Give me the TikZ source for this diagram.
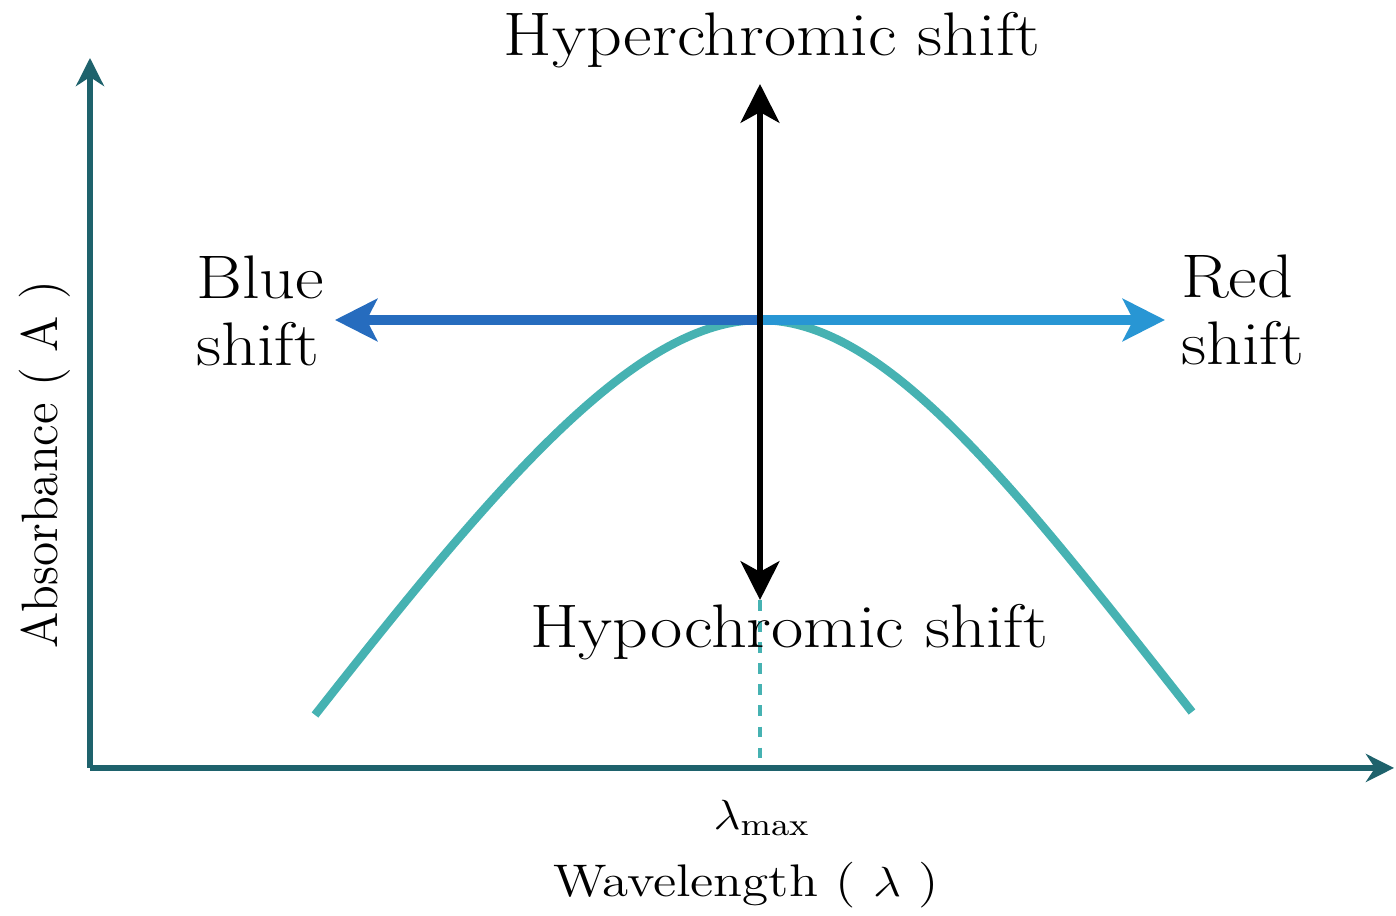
\documentclass[tikz,border=0pt]{standalone}
\usetikzlibrary{arrows.meta}
\definecolor{axisteal}{RGB}{30,98,108}
\definecolor{curveteal}{RGB}{70,178,178}
\definecolor{blueleft}{RGB}{38,108,190}
\definecolor{blueright}{RGB}{40,150,212}
\begin{document}
\begin{tikzpicture}[
    axisline/.style={axisteal, line width=1.6pt, -{Stealth[length=8pt, width=8pt]}},
    shiftarrow/.style={line width=2.6pt, -{Stealth[length=12pt, width=12pt, inset=3pt]}},
    bigtext/.style={font=\fontsize{17.5}{19}\selectfont, xscale=1.14},
    smalltext/.style={font=\fontsize{13}{15}\selectfont, xscale=1.12}
  ]
  \useasboundingbox (0,0) rectangle (13.96,9.16);

  \coordinate (origin) at (0.90,1.48);
  \coordinate (ytop) at (0.90,8.58);
  \coordinate (xend) at (13.94,1.48);
  \coordinate (peak) at (7.60,5.96);
  \coordinate (base) at (7.60,1.48);
  \coordinate (curvestart) at (3.15,2.01);
  \coordinate (curveend) at (11.92,2.04);
  \coordinate (blueend) at (3.35,5.96);
  \coordinate (redend) at (11.65,5.96);
  \coordinate (hypertip) at (7.60,8.32);
  \coordinate (hypotip) at (7.60,3.16);

  % axes
  \draw[axisline] (origin) -- (ytop);
  \draw[axisline] (origin) -- (xend);

  % absorption band
  \draw[curveteal, line width=2.4pt] (curvestart) .. controls (4.95,4.30) and (6.35,5.96) .. (peak)
    .. controls (8.85,5.96) and (10.10,4.35) .. (curveend);
  \draw[curveteal, line width=1.4pt, dashed] (hypotip) -- (base);

  % shifts
  \draw[shiftarrow, blueleft] (peak) -- (blueend);
  \draw[shiftarrow, blueright] (peak) -- (redend);
  \draw[black, line width=1.8pt, {Stealth[length=11pt, width=11pt, inset=3pt]}-{Stealth[length=11pt, width=11pt, inset=3pt]}] (hypotip) -- (hypertip);

  \node[bigtext] (hyper) at (7.72,8.76) {Hyperchromic shift};
  \node[bigtext] (hypo) at (7.89,2.84) {Hypochromic shift};
  \node[bigtext, align=left, anchor=west] (blue) at (1.82,6.05) {Blue\\shift};
  \node[bigtext, align=left, anchor=west] (red) at (11.67,6.06) {Red\\shift};

  \node[smalltext] (lmax) at (7.62,0.98) {$\lambda_{\mathrm{max}}$};
  \node[smalltext, xscale=1.04] (xlabel) at (7.46,0.31) {Wavelength ( $\lambda$ )};
  \node[smalltext, rotate=90, xscale=1.08] (ylabel) at (0.45,4.51) {Absorbance ( A )};
\end{tikzpicture}
\end{document}
